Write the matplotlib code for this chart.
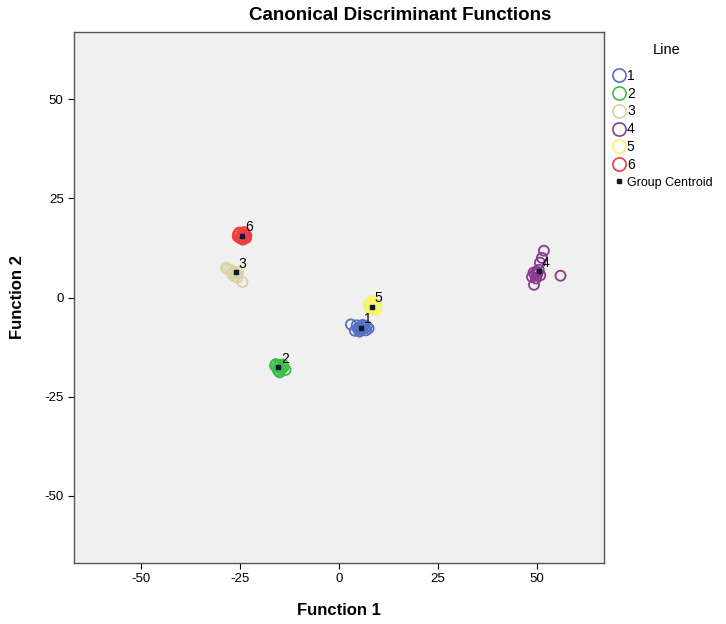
import matplotlib
matplotlib.use("Agg")
import matplotlib.pyplot as plt
from matplotlib.lines import Line2D

plt.rcParams['font.family'] = ['Liberation Sans', 'DejaVu Sans']
plt.rcParams['axes.unicode_minus'] = False

groups = ["1", "2", "3", "4", "5", "6"]
colors = ["#5A6FC0", "#3DBE4B", "#D8D2A4", "#8B3A92", "#F8F46A", "#EE3B3F"]

g1_x = [3.0, 4.0, 5.0, 5.8, 6.8, 7.5, 6.2, 4.5, 5.5, 6.5, 5.2, 6.0, 7.0, 4.8]
g1_y = [-6.8, -8.4, -7.5, -8.0, -8.3, -7.8, -7.2, -7.0, -8.2, -7.6, -8.6, -6.9, -7.3, -8.0]
g2_x = [-16.0, -14.5, -15.5, -14.0, -15.0, -13.5, -15.8, -14.8, -15.3, -14.2, -16.2, -15.0]
g2_y = [-16.8, -18.0, -18.2, -17.5, -17.0, -18.3, -17.6, -17.8, -18.6, -16.9, -17.2, -18.9]
g3_x = [-28.6, -28.2, -26.9, -25.7, -24.4, -26.0, -27.5, -25.5, -27.0, -26.3]
g3_y = [7.5, 7.2, 6.6, 5.0, 3.9, 6.0, 7.0, 6.4, 5.8, 5.3]
g4_x = [51.8, 51.3, 50.8, 50.0, 49.5, 48.8, 49.3, 56.0, 50.5, 49.8, 50.2, 49.2, 50.9]
g4_y = [11.8, 10.0, 8.8, 6.5, 5.8, 5.2, 3.2, 5.5, 7.0, 4.8, 6.0, 6.3, 5.6]
g5_x = [7.5, 9.0, 8.5, 7.8, 9.5, 8.0, 8.8, 8.2, 9.2, 7.6, 8.6]
g5_y = [-2.0, -1.5, -3.0, -2.8, -2.3, -1.2, -2.0, -2.5, -3.2, -1.6, -0.9]
g6_x = [-25.5, -24.0, -23.5, -25.0, -24.5, -24.0, -25.2, -23.8, -24.8, -25.6, -23.4, -24.3]
g6_y = [16.0, 16.5, 15.0, 15.0, 15.8, 15.2, 16.4, 16.0, 14.9, 15.4, 15.6, 14.6]

cent_x = [5.5, -15.3, -26.1, 50.5, 8.3, -24.5]
cent_y = [-7.6, -17.6, 6.4, 6.6, -2.3, 15.6]

xs = [g1_x, g2_x, g3_x, g4_x, g5_x, g6_x]
ys = [g1_y, g2_y, g3_y, g4_y, g5_y, g6_y]

fig = plt.figure(figsize=(7.26, 6.24), dpi=100)
ax = fig.add_axes([74/726, 1-563/624, 530/726, 531/624])
ax.set_facecolor("#F0F0F0")

for gx, gy, c in zip(xs, ys, colors):
    ax.scatter(gx, gy, s=52, facecolors='none', edgecolors=c, linewidths=1.3, zorder=3)

ax.scatter(cent_x, cent_y, marker='s', s=12, color='#0b1a2e', zorder=5)
for cx, cy, lab in zip(cent_x, cent_y, groups):
    ax.annotate(lab, (cx, cy), xytext=(2, 1), textcoords='offset points',
                fontsize=10, ha='left', va='bottom', zorder=6)

ax.set_xlim(-67, 67)
ax.set_ylim(-67, 67)
ticks = [-50, -25, 0, 25, 50]
ax.set_xticks(ticks)
ax.set_yticks(ticks)
ax.tick_params(labelsize=9.5, length=4, direction='out')
for s in ax.spines.values():
    s.set_color('#555555')
    s.set_linewidth(1.0)

ax.set_xlabel("Function 1", fontsize=12, fontweight='bold', labelpad=13)
ax.set_ylabel("Function 2", fontsize=12, fontweight='bold', labelpad=14)
fig.text(400/726, 1-16/624, "Canonical Discriminant Functions", fontsize=13.5,
         fontweight='bold', ha='center', va='center')

fig.text(667/726, 1-50/624, "Line", fontsize=10.5, ha='center', va='center')
handles = [Line2D([], [], marker='o', linestyle='none', markerfacecolor='none',
                  markeredgecolor=c, markersize=9.5, markeredgewidth=1.2) for c in colors]
handles.append(Line2D([], [], marker='s', linestyle='none', color='#0b1a2e', markersize=3.5))
labels = groups + ["Group Centroid"]
leg = fig.legend(handles, labels, loc='upper left', bbox_to_anchor=(604/726, 1-59/624),
                 frameon=False, fontsize=10,
                 handlelength=0.8, handletextpad=0.15, labelspacing=0.28, borderpad=0.2)
for t in leg.get_texts()[-1:]:
    t.set_fontsize(9)

fig.savefig("out.png", dpi=100)
